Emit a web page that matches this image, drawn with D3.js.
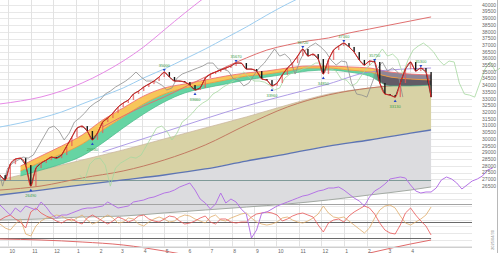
<!DOCTYPE html>
<html>
<head>
<meta charset="utf-8">
<script src="https://cdn.jsdelivr.net/npm/d3@7"></script>
<style>
  body { margin: 0; background: #fff; }
  svg { display: block; font-family: "Liberation Sans", Arial, sans-serif; }
</style>
</head>
<body>
<div id="chart"></div>
<script>
// weekly closes, first week starts 2023-09-20
const closes = [
  27310, 26940, 28130, 28510, 28580, 28060, 26490, 27840, 28210, 28430,
  28660, 28580, 28810, 29480, 30150, 30820, 30970, 30600, 29930, 30450,
  31270, 31570, 31940, 32390, 32690, 32910, 33360, 33580, 33880, 34100,
  34330, 34630, 35000, 34630, 34330, 34330, 34250, 34030, 33660, 33810,
  34550, 34850, 35000, 35150, 35300, 35450, 35670, 35670, 35220, 35220,
  35070, 34480, 34400, 33960, 34180, 34780, 35300, 35670, 36190, 36720,
  36190, 36340, 35970, 34850, 35900, 36640, 36940, 37160, 36870, 36490,
  35900, 35520, 35820, 35750, 34180, 33360, 33280, 33130, 34180, 35220,
  35750, 35070, 35300, 35000, 33130
];

// long moving averages (week index -> value)
const longWeeks = [0, 8, 16, 24, 32, 40, 48, 56, 64, 72, 80, 84];
const oliveTop = [26950, 27690, 28440, 29190, 30010, 30830, 31650, 32540, 33360, 33810, 34110, 34260];
const ma200 = [26200, 26500, 27100, 27620, 28440, 29560, 31050, 32390, 33290, 33810, 34110, 34260];
const blueLine = [25830, 26200, 26580, 26950, 27320, 27770, 28360, 28890, 29480, 29930, 30450, 30680];
const grayBottom = [23960, 24040, 24190, 24260, 24490, 24710, 24930, 25160, 25460, 25830, 26200, 26430];

// cloud spans
const cloudWeeks = [4, 8, 12, 16, 20, 24, 28, 32, 36, 40, 44, 48, 52, 56, 60, 64, 68, 72, 76, 80, 84];
const spanTop = [27990, 28740, 29480, 30300, 31420, 32320, 33210, 33810, 34110, 34410, 34700, 34930, 35080, 35300, 35450, 35450, 35380, 35300, 35000, 34850, 34780];
const spanMid = [27620, 28290, 28890, 29630, 30680, 31650, 32620, 33360, 33810, 34110, 34410, 34700, 34850, 35080, 35300, 35300, 35150, 35000, 34630, 34480, 34410];
const spanBot = [27250, 27690, 28140, 28740, 29710, 30830, 31870, 32770, 33440, 33810, 34110, 34410, 34630, 34850, 35080, 35150, 35000, 34700, 33960, 33960, 34030];

// bands
const pinkWeeks = [0, 4, 8, 12, 16, 20, 24, 28, 32, 36, 40];
const pinkBand = [32620, 32840, 33140, 33590, 34180, 34930, 35820, 36870, 38140, 39400, 40600];
const skyWeeks = [0, 4, 8, 12, 16, 20, 24, 28, 32, 36, 40, 44, 48, 52, 56, 60];
const skyBand = [30900, 31200, 31570, 32020, 32620, 33210, 33810, 34560, 35230, 35970, 36720, 37540, 38360, 39250, 40080, 40820];
const redWeeks = [20, 24, 28, 32, 36, 40, 44, 48, 52, 56, 60, 64, 68, 72, 76, 80, 84];
const redBand = [30900, 31720, 32470, 33140, 33880, 34630, 35380, 36050, 36640, 37020, 37320, 37540, 37910, 38210, 38510, 38810, 39110];
const purpleWeeks = [20, 32, 48, 64, 72, 84];
const purpleLine = [29040, 30530, 32470, 34110, 35000, 35300];

// oscillators (0-100)
const oscPurple = [
  55, 50, 45, 52, 48, 54, 52, 50, 58, 53,
  46, 42, 45, 45, 47, 49, 51, 52, 52, 53,
  54, 58, 55, 52, 53, 54, 58, 59, 60, 62,
  63, 65, 67, 68, 70, 73, 75, 77, 70, 61,
  57, 51, 56, 67, 57, 61, 58, 51, 46, 22,
  30, 47, 48, 51, 54, 56, 58, 60, 62, 64,
  65, 67, 69, 70, 72, 72, 73, 70, 66, 62,
  59, 54, 63, 69, 72, 76, 81, 82, 83, 82,
  75, 69, 67, 68, 68, 72, 80, 83, 81, 77,
  71, 75, 79, 81, 84, 90, 92
];
const oscRed = [
  40, 43, 45, 41, 38, 32, 48, 52, 47, 44,
  42, 39, 37, 40, 41, 38, 36, 42, 45, 42,
  39, 36, 39, 43, 41, 38, 40, 44, 45, 41,
  39, 38, 41, 44, 43, 39, 36, 37, 39, 42,
  44, 38, 36, 41, 41, 38, 37, 38, 38, 43,
  46, 47, 48, 47, 45, 39, 41, 44, 46, 47,
  45, 43, 35, 28, 37, 40, 41, 38, 44, 48,
  51, 54, 52, 46, 37, 30, 27, 26, 35, 47,
  52, 45, 39, 34, 25
];
const oscOrange = [
  36, 32, 30, 36, 41, 26, 24, 34, 39, 42,
  43, 45, 44, 41, 39, 42, 45, 40, 36, 38,
  42, 45, 42, 37, 38, 42, 41, 36, 34, 38,
  41, 43, 41, 38, 39, 43, 45, 44, 41, 39,
  37, 43, 45, 40, 39, 42, 44, 46, 47, 42,
  38, 36, 35, 36, 38, 42, 43, 40, 38, 37,
  39, 42, 46, 54, 47, 43, 42, 43, 39, 35,
  31, 27, 32, 42, 50, 54, 55, 52, 44, 37,
  35, 38, 41, 45, 53
];
const oscLong = [21, 20, 18, 15, 9, 2, -3, -5, -3, 7, 16, 20];
const refLevels = [80, 56, 38, 22];

const highs = [32, 46, 59, 67, 73, 82];
const lows = [6, 18, 38, 53, 63, 77];

const W = 500, H = 253;
const start = new Date(2023, 8, 20);
const dayMs = 864e5;

const x = d3.scaleTime()
  .domain([start, d3.timeDay.offset(start, 682)])
  .range([0, W]);
const weekX = w => x(new Date(start.getTime() + w * 7 * dayMs));
const y = d3.scaleLinear().domain([26500, 40000]).range([186, 5]);
const yOsc = d3.scaleLinear().domain([0, 100]).range([260, 160]);

const svg = d3.select("#chart").append("svg")
  .attr("width", W)
  .attr("height", H);

svg.append("rect").attr("width", W).attr("height", H).attr("fill", "#fff");

const defs = svg.append("defs");
const grad = (id, c1, c2) => {
  const g = defs.append("linearGradient").attr("id", id)
    .attr("gradientUnits", "userSpaceOnUse")
    .attr("x1", 0).attr("x2", W).attr("y1", 0).attr("y2", 0);
  g.append("stop").attr("offset", 0.745).attr("stop-color", c1);
  g.append("stop").attr("offset", 0.765).attr("stop-color", c2);
};
grad("cloudA", "#f7c65a", "#8e8596");
grad("cloudB", "#66d4a3", "#625b66");

// grid
const gridVals = d3.range(40000, 21999, -500);
svg.append("g").selectAll("line").data(gridVals).join("line")
  .attr("x1", 0).attr("x2", 472)
  .attr("y1", d => Math.round(y(d)) + 0.5)
  .attr("y2", d => Math.round(y(d)) + 0.5)
  .attr("stroke", "#e8e8e8");

const lastDate = new Date(start.getTime() + 84 * 7 * dayMs);
const months = d3.timeMonth.range(d3.timeDay.offset(start, 1), lastDate);
svg.append("g").selectAll("line").data(months).join("line")
  .attr("x1", d => Math.round(x(d)) + 0.5)
  .attr("x2", d => Math.round(x(d)) + 0.5)
  .attr("y1", 0).attr("y2", 247)
  .attr("stroke", "#e2e2e2");

// long MA fills
const bandArea = (weeks, lo, hi) => d3.area()
  .x((d, i) => weekX(weeks[i]))
  .y0((d, i) => y(lo[i]))
  .y1((d, i) => y(hi[i]))
  .curve(d3.curveMonotoneX);

const lineOf = (weeks, vals, scale, curve) => d3.line()
  .x((d, i) => weekX(weeks[i]))
  .y((d, i) => scale(vals[i]))
  .curve(curve || d3.curveMonotoneX);

svg.append("path").datum(longWeeks)
  .attr("d", bandArea(longWeeks, grayBottom, blueLine))
  .attr("fill", "#dcdcdf");
svg.append("path").datum(longWeeks)
  .attr("d", bandArea(longWeeks, blueLine, oliveTop))
  .attr("fill", "#d8d2a5");

// oscillator reference lines
svg.append("g").selectAll("line").data(refLevels).join("line")
  .attr("x1", 0)
  .attr("x2", (d, i) => (i === 1 || i === 2) ? 472 : weekX(84))
  .attr("y1", d => Math.round(yOsc(d)) + 0.5)
  .attr("y2", d => Math.round(yOsc(d)) + 0.5)
  .attr("stroke", (d, i) => i === 0 ? "#7f9a98" : i === 1 ? "#a4a4a4" : "#6a6a6a")
  .attr("stroke-width", 1);

svg.append("path").datum(longWeeks)
  .attr("d", lineOf(longWeeks, grayBottom, y))
  .attr("fill", "none").attr("stroke", "#a3aaa3").attr("stroke-width", 1);
svg.append("path").datum(longWeeks)
  .attr("d", lineOf(longWeeks, blueLine, y))
  .attr("fill", "none").attr("stroke", "#5d74b4").attr("stroke-width", 1.3);
svg.append("path").datum(longWeeks)
  .attr("d", lineOf(longWeeks, oliveTop, y))
  .attr("fill", "none").attr("stroke", "#cbb8a0").attr("stroke-width", 0.8);
svg.append("path").datum(longWeeks)
  .attr("d", lineOf(longWeeks, ma200, y))
  .attr("fill", "none").attr("stroke", "#c27a62").attr("stroke-width", 1);

// cloud
svg.append("path").datum(cloudWeeks)
  .attr("d", bandArea(cloudWeeks, spanMid, spanTop))
  .attr("fill", "url(#cloudA)");
svg.append("path").datum(cloudWeeks)
  .attr("d", bandArea(cloudWeeks, spanBot, spanMid))
  .attr("fill", "url(#cloudB)");
svg.append("path").datum(cloudWeeks)
  .attr("d", lineOf(cloudWeeks, spanTop, y))
  .attr("fill", "none").attr("stroke", "#f07474").attr("stroke-width", 0.9);
svg.append("path").datum(cloudWeeks)
  .attr("d", lineOf(cloudWeeks, spanMid, y))
  .attr("fill", "none").attr("stroke", "#f29a3a").attr("stroke-width", 0.9);
svg.append("path").datum(cloudWeeks)
  .attr("d", lineOf(cloudWeeks, spanBot, y))
  .attr("fill", "none").attr("stroke", "#49b888").attr("stroke-width", 0.7);

// bands
svg.append("path").datum(pinkWeeks)
  .attr("d", lineOf(pinkWeeks, pinkBand, y))
  .attr("fill", "none").attr("stroke", "#e68ae6").attr("stroke-width", 1);
svg.append("path").datum(skyWeeks)
  .attr("d", lineOf(skyWeeks, skyBand, y))
  .attr("fill", "none").attr("stroke", "#9ccdf0").attr("stroke-width", 1);
svg.append("path").datum(redWeeks)
  .attr("d", lineOf(redWeeks, redBand, y))
  .attr("fill", "none").attr("stroke", "#e07070").attr("stroke-width", 1);
svg.append("path").datum(purpleWeeks)
  .attr("d", lineOf(purpleWeeks, purpleLine, y))
  .attr("fill", "none").attr("stroke", "#9b84e0").attr("stroke-width", 0.8);

// leading (shifted forward) and lagging (shifted back) price lines
svg.append("path").datum(closes)
  .attr("d", d3.line().x((d, i) => weekX(i + 15.5)).y(d => y(d)))
  .attr("fill", "none").attr("stroke", "#a6d8a0").attr("stroke-width", 0.8);
svg.append("path").datum(closes)
  .attr("d", d3.line().x((d, i) => weekX(i - 5.5)).y(d => y(d)))
  .attr("fill", "none").attr("stroke", "#8e8e8e").attr("stroke-width", 0.8);

// price: candle bodies from previous close to close, then red close line
const bodies = closes.slice(1).map((c, k) => ({ i: k + 1, o: closes[k], c }));
svg.append("g").selectAll("rect").data(bodies).join("rect")
  .attr("x", d => weekX(d.i) - 0.7)
  .attr("width", 1.4)
  .attr("y", d => y(Math.max(d.o, d.c)))
  .attr("height", d => Math.max(1, Math.abs(y(d.o) - y(d.c))))
  .attr("fill", d => d.c >= d.o ? "#e85a5a" : "#161616")
  .attr("opacity", d => d.c >= d.o ? 0.75 : 1);
svg.append("path").datum(closes)
  .attr("d", d3.line().x((d, i) => weekX(i)).y(d => y(d)))
  .attr("fill", "none").attr("stroke", "#2a1010").attr("stroke-width", 0.7);
svg.append("path").datum(closes)
  .attr("d", d3.line().x((d, i) => weekX(i)).y(d => y(d)).curve(d3.curveMonotoneX))
  .attr("fill", "none").attr("stroke", "#e02424").attr("stroke-width", 1);

// markers and price notes
const notes = svg.append("g").attr("font-size", 4).attr("text-anchor", "middle");
notes.selectAll(".hi").data(highs).join("text")
  .attr("x", i => weekX(i)).attr("y", i => y(closes[i]) - 5)
  .attr("fill", "#3aa04a").text(i => closes[i]);
notes.selectAll(".lo").data(lows).join("text")
  .attr("x", i => weekX(i)).attr("y", i => y(closes[i]) + 11)
  .attr("fill", "#3aa04a").text(i => closes[i]);
svg.append("g").selectAll("path").data(lows).join("path")
  .attr("d", i => `M${weekX(i) - 1.5},${y(closes[i]) + 5}l1.5,-2.5l1.5,2.5z`)
  .attr("fill", "#2848c8");
svg.append("g").selectAll("path").data(highs).join("path")
  .attr("d", i => `M${weekX(i) - 1.5},${y(closes[i]) - 3}l1.5,2.5l1.5,-2.5z`)
  .attr("fill", "#2848c8");

// oscillators
const oscLine = d3.line().x((d, i) => weekX(i)).y(d => yOsc(d));
svg.append("path").datum(oscOrange).attr("d", oscLine)
  .attr("fill", "none").attr("stroke", "#e0ac6a").attr("stroke-width", 0.8);
svg.append("path").datum(oscRed).attr("d", oscLine)
  .attr("fill", "none").attr("stroke", "#e85656").attr("stroke-width", 0.8);
svg.append("path").datum(oscPurple).attr("d", oscLine)
  .attr("fill", "none").attr("stroke", "#b574e6").attr("stroke-width", 1);
svg.append("path").datum(longWeeks)
  .attr("d", lineOf(longWeeks, oscLong, yOsc))
  .attr("fill", "none").attr("stroke", "#e06a6a").attr("stroke-width", 1);

// axes
svg.append("line")
  .attr("x1", 0).attr("x2", 472).attr("y1", 247.5).attr("y2", 247.5)
  .attr("stroke", "#cfcfcf");
svg.append("line")
  .attr("x1", 497.5).attr("x2", 497.5).attr("y1", 0).attr("y2", H)
  .attr("stroke", "#b8b8b8");

const tickVals = d3.range(40000, 26499, -500);
svg.append("g").attr("font-size", 5).attr("fill", "#666").attr("text-anchor", "end")
  .selectAll("text").data(tickVals).join("text")
  .attr("x", 496).attr("y", d => y(d)).attr("dy", "0.35em")
  .text(d => d);

const fmtMonth = d3.timeFormat("%-m");
svg.append("g").attr("font-size", 5).attr("fill", "#666")
  .selectAll("text").data(months).join("text")
  .attr("x", d => x(d) + 1.5).attr("y", 252.5)
  .text(d => fmtMonth(d));

svg.append("text")
  .attr("transform", "translate(494,250) rotate(-90)")
  .attr("font-size", 4).attr("fill", "#888")
  .text("2025/04/30");
</script>
</body>
</html>
